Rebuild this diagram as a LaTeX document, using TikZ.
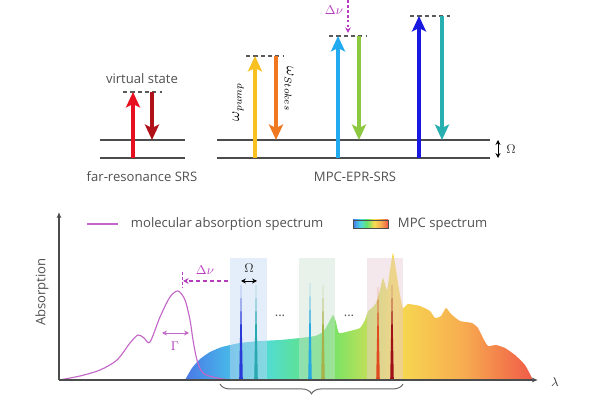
\documentclass[tikz,border=0pt]{standalone}
\usepackage{fontspec}
\setmainfont{Open Sans}
\usetikzlibrary{arrows.meta,decorations.pathreplacing}

\definecolor{txtgray}{HTML}{505050}
\definecolor{absmag}{HTML}{C266C8}
\definecolor{dnmag}{HTML}{B53CBD}
\definecolor{redup}{HTML}{E81020}
\definecolor{reddn}{HTML}{B01018}
\definecolor{yelup}{HTML}{F8C020}
\definecolor{orgdn}{HTML}{F07820}
\definecolor{lbup}{HTML}{22AAF0}
\definecolor{grdn}{HTML}{8CC840}
\definecolor{blup}{HTML}{1818E0}
\definecolor{tldn}{HTML}{28B0B0}
\definecolor{mpcA}{HTML}{4A78E8}
\definecolor{mpcB}{HTML}{48B4E8}
\definecolor{mpcC}{HTML}{52DCD0}
\definecolor{mpcD}{HTML}{66E468}
\definecolor{mpcE}{HTML}{F6DC50}
\definecolor{mpcF}{HTML}{F7AC50}
\definecolor{mpcG}{HTML}{F05A48}
\definecolor{bandB}{HTML}{C4DAF4}
\definecolor{bandG}{HTML}{CCE0D0}
\definecolor{bandP}{HTML}{E6CCD4}
\definecolor{spkA}{HTML}{2A3AD8}
\definecolor{spkB}{HTML}{28A8B0}
\definecolor{spkC}{HTML}{28A8E0}
\definecolor{spkD}{HTML}{A8B048}
\definecolor{spkE}{HTML}{E04A20}
\definecolor{spkF}{HTML}{A01018}

% the middle half (25bp..75bp) is what lands on the path
\pgfdeclarehorizontalshading{mpc}{100bp}{color(0bp)=(mpcA); color(25bp)=(mpcA); color(31bp)=(mpcB); color(37bp)=(mpcC); color(45bp)=(mpcD); color(55bp)=(mpcE); color(65bp)=(mpcF); color(75bp)=(mpcG); color(100bp)=(mpcG)}

\tikzset{
  lvl/.style={line width=0.9pt, black!70},
  virt/.style={line width=0.8pt, black!65, dash pattern=on 3pt off 2.2pt},
  photon/.style={line width=3.3pt, -{Stealth[length=11pt,width=10pt,inset=2.5pt]}},
  lbl/.style={text=txtgray},
  dbl/.style={line width=0.6pt, {Stealth[length=3.5pt,width=3.5pt]}-{Stealth[length=3.5pt,width=3.5pt]}},
  band/.style={fill opacity=0.45},
}

\begin{document}
\begin{tikzpicture}[x=0.025cm, y=-0.025cm, font=\fontsize{9.3}{11}\selectfont]
  \useasboundingbox (0,0) rectangle (600,400);
  % --- far-resonance SRS ---
  \draw[lvl] (100,140) -- (185,140);
  \draw[lvl] (100,158) -- (185,158);
  \draw[virt] (123,92) -- (162,92);
  \draw[photon, redup] (133,158) -- (133,92);
  \draw[photon, reddn] (152,92) -- (152,140);
  \node[lbl] (virtlbl) at (142,79) {virtual state};
  \node[lbl] (farlbl) at (142,177) {far-resonance SRS};
  % --- MPC-EPR-SRS ---
  \draw[lvl] (217,140) -- (490,140);
  \draw[lvl] (217,158) -- (490,158);
  \foreach \xu/\xd/\yv/\cu/\cd in {255/276/56/yelup/orgdn, 338/359/36/lbup/grdn, 419/442/16/blup/tldn} {
    \draw[virt] (\xu-9,\yv) -- (\xd+8,\yv);
    \draw[photon, \cu] (\xu,158) -- (\xu,\yv);
    \draw[photon, \cd] (\xd,\yv) -- (\xd,140);
  }
  \node[rotate=90, font=\fontsize{10.5}{12}\selectfont] (pumplbl) at (238,102) {$\omega_{pump}$};
  \node[rotate=-90, font=\fontsize{10.5}{12}\selectfont] (stokeslbl) at (289,89) {$\omega_{Stokes}$};
  \coordinate (dtop) at (348,0);
  \coordinate (dbot) at (348,33);
  \draw[dnmag, line width=0.8pt, dash pattern=on 2pt off 1.5pt, -{Stealth[length=4pt,width=4pt]}] (dtop) -- (dbot);
  \node[text=dnmag] (dnutop) at (334,10) {$\Delta\nu$};
  \coordinate (oma) at (498,140);
  \coordinate (omb) at (498,158);
  \draw[dbl] (oma) -- (omb);
  \node[text=black!80] (omtop) at (511,149) {$\Omega$};
  \node[lbl] (mpclbl) at (355,177) {MPC-EPR-SRS};
  % --- legend ---
  \draw[absmag, line width=0.8pt] (87,224) -- (118,224);
  \node[lbl, anchor=west] (abslbl) at (126,224) {molecular absorption spectrum};
  \shade[shading=mpc, draw=black!70, line width=0.6pt] (353,220) rectangle (388,228);
  \node[lbl, anchor=west] (mpcleg) at (393,224) {MPC spectrum};
  % --- MPC spectrum ---
  \shade[shading=mpc] plot[smooth, tension=0.3] coordinates {(185,380) (192,368) (200,359) (210,352) (222,347) (240,343) (260,341) (280,340) (300,338) (315,336) (323,332) (328,324) (333,315) (336,322) (339,333) (350,331) (360,328) (365,320) (368,311) (372,308) (376,303) (380,290) (383,278) (387,290) (390,270) (393,253) (396,270) (400,295) (403,308) (408,304) (420,306) (430,311) (435,318) (441,316) (446,308) (451,314) (460,321) (472,323) (478,328) (483,338) (488,346) (496,345) (505,348) (515,355) (525,365) (533,380)} -- cycle;
  \fill[band, bandB] (230,258) rectangle (267,380);
  \fill[band, bandG] (299,258) rectangle (335,380);
  \fill[band, bandP] (367,258) rectangle (403,380);
  \foreach \sx/\sy/\sc in {241/285/spkA, 256/285/spkB, 310/283/spkC, 323/285/spkD, 378/287/spkE, 392/285/spkF} {
    \fill[\sc] (\sx-1.8,380) -- (\sx,\sy) -- (\sx+1.8,380) -- cycle;
  }
  \node[lbl] (dotsa) at (280,316) {...};
  \node[lbl] (dotsb) at (349,316) {...};
  % --- absorption line ---
  \draw[absmag, line width=0.8pt] plot[smooth, tension=0.5] coordinates {(59,380) (80,376) (100,370) (117,360) (130,343) (138,335) (144,338) (150,342) (160,317) (170,297) (178,291) (185,300) (190,320) (193,340) (197,360) (203,373) (217,378) (232,380)};
  \coordinate (gama) at (162,333);
  \coordinate (gamb) at (189,333);
  \draw[dbl, absmag] (gama) -- (gamb);
  \node[text=dnmag] (gamlbl) at (175,346) {$\Gamma$};
  \coordinate (tka) at (182,272);
  \coordinate (tkb) at (182,287);
  \draw[dnmag, line width=0.7pt, dash pattern=on 2pt off 1.5pt] (tka) -- (tkb);
  \coordinate (dnr) at (228,281);
  \coordinate (dnl) at (183,281);
  \draw[dnmag, line width=0.8pt, dash pattern=on 3pt off 2pt, -{Stealth[length=4pt,width=4pt]}] (dnr) -- (dnl);
  \node[text=dnmag] (dnubot) at (205,270) {$\Delta\nu$};
  \coordinate (omc) at (241,281);
  \coordinate (omd) at (257,281);
  \draw[dbl] (omc) -- (omd);
  \node[text=black!80] (ombot) at (249,268) {$\Omega$};
  % --- axes ---
  \coordinate (orig) at (59,380);
  \coordinate (ytip) at (59,212);
  \coordinate (xtip) at (538,380);
  \draw[black!70, line width=0.9pt, -{Latex[length=4pt,width=3.5pt]}] (orig) -- (ytip);
  \draw[black!70, line width=0.9pt, -{Latex[length=4pt,width=3.5pt]}] (orig) -- (xtip);
  \node[lbl, rotate=90] (ylbl) at (42,292) {Absorption};
  \node[text=black!80] (xlbl) at (555,382) {$\lambda$};
  \draw[black!60, line width=0.7pt, decorate, decoration={brace, mirror, amplitude=7pt}] (220,384) -- (403,384);
\end{tikzpicture}
\end{document}
